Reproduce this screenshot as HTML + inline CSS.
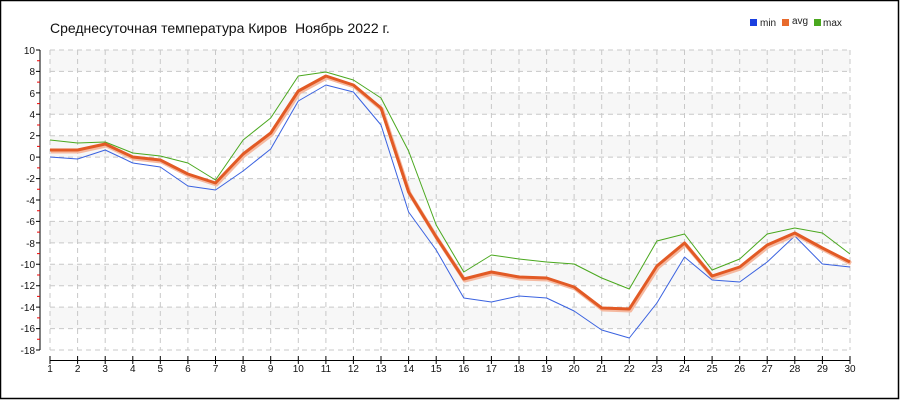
<!DOCTYPE html><html><head><meta charset="utf-8"><style>body{margin:0;background:#fff}svg{display:block}text{font-family:"Liberation Sans","DejaVu Sans",sans-serif}</style></head><body>
<svg width="900" height="400" xmlns="http://www.w3.org/2000/svg">
<rect x="0.5" y="0.5" width="898" height="398" fill="#fff" stroke="#000" stroke-width="1.5"/>
<text x="50" y="33" font-size="14" fill="#111">Среднесуточная температура Киров&#160; Ноябрь 2022 г.</text>
<g font-size="10" fill="#222">
<rect x="750" y="19" width="7" height="7" fill="#1a3fe0"/><text x="760" y="26">min</text>
<rect x="782" y="19" width="7" height="7" fill="#e86a2c"/><text x="792" y="24">avg</text>
<rect x="814" y="19" width="7" height="7" fill="#4aa81e"/><text x="823" y="26">max</text>
</g>
<g fill="#f7f7f7">
<rect x="50" y="50" width="800" height="21.4"/><rect x="50" y="92.9" width="800" height="21.4"/><rect x="50" y="135.7" width="800" height="21.4"/><rect x="50" y="178.6" width="800" height="21.4"/><rect x="50" y="221.4" width="800" height="21.4"/><rect x="50" y="264.3" width="800" height="21.4"/><rect x="50" y="307.1" width="800" height="21.4"/>
</g>
<g stroke="#c8c8c8" stroke-dasharray="5,4" stroke-width="1">
<path d="M50 50H850M50 71.4H850M50 92.9H850M50 114.3H850M50 135.7H850M50 157.1H850M50 178.6H850M50 200H850M50 221.4H850M50 242.9H850M50 264.3H850M50 285.7H850M50 307.1H850M50 328.6H850M50 350H850"/>
<path d="M50 50V350M77.6 50V350M105.2 50V350M132.8 50V350M160.3 50V350M187.9 50V350M215.5 50V350M243.1 50V350M270.7 50V350M298.3 50V350M325.9 50V350M353.4 50V350M381 50V350M408.6 50V350M436.2 50V350M463.8 50V350M491.4 50V350M519 50V350M546.6 50V350M574.1 50V350M601.7 50V350M629.3 50V350M656.9 50V350M684.5 50V350M712.1 50V350M739.7 50V350M767.2 50V350M794.8 50V350M822.4 50V350M850 50V350"/>
</g>
<g stroke="#000" stroke-width="1">
<path d="M40 50V350"/>
<path d="M36 50H40M36 71.4H40M36 92.9H40M36 114.3H40M36 135.7H40M36 157.1H40M36 178.6H40M36 200H40M36 221.4H40M36 242.9H40M36 264.3H40M36 285.7H40M36 307.1H40M36 328.6H40M36 350H40"/>
<path d="M50 360.5H850"/>
<path d="M50 356V364M77.6 356V364M105.2 356V364M132.8 356V364M160.3 356V364M187.9 356V364M215.5 356V364M243.1 356V364M270.7 356V364M298.3 356V364M325.9 356V364M353.4 356V364M381 356V364M408.6 356V364M436.2 356V364M463.8 356V364M491.4 356V364M519 356V364M546.6 356V364M574.1 356V364M601.7 356V364M629.3 356V364M656.9 356V364M684.5 356V364M712.1 356V364M739.7 356V364M767.2 356V364M794.8 356V364M822.4 356V364M850 356V364"/>
</g>
<path stroke="#e00" stroke-width="1" d="M37 60.7H40M37 82.1H40M37 103.6H40M37 125H40M37 146.4H40M37 167.9H40M37 189.3H40M37 210.7H40M37 232.1H40M37 253.6H40M37 275H40M37 296.4H40M37 317.9H40M37 339.3H40"/>
<g font-size="10" fill="#111" text-anchor="end">
<text x="35" y="54">10</text><text x="35" y="75">8</text><text x="35" y="97">6</text><text x="35" y="118">4</text><text x="35" y="139">2</text><text x="35" y="161">0</text><text x="35" y="182">-2</text><text x="35" y="204">-4</text><text x="35" y="225">-6</text><text x="35" y="247">-8</text><text x="35" y="268">-10</text><text x="35" y="289">-12</text><text x="35" y="311">-14</text><text x="35" y="332">-16</text><text x="35" y="354">-18</text>
</g>
<g font-size="10" fill="#111" text-anchor="middle">
<text x="50" y="372">1</text><text x="77.6" y="372">2</text><text x="105.2" y="372">3</text><text x="132.8" y="372">4</text><text x="160.3" y="372">5</text><text x="187.9" y="372">6</text><text x="215.5" y="372">7</text><text x="243.1" y="372">8</text><text x="270.7" y="372">9</text><text x="298.3" y="372">10</text><text x="325.9" y="372">11</text><text x="353.4" y="372">12</text><text x="381" y="372">13</text><text x="408.6" y="372">14</text><text x="436.2" y="372">15</text><text x="463.8" y="372">16</text><text x="491.4" y="372">17</text><text x="519" y="372">18</text><text x="546.6" y="372">19</text><text x="574.1" y="372">20</text><text x="601.7" y="372">21</text><text x="629.3" y="372">22</text><text x="656.9" y="372">23</text><text x="684.5" y="372">24</text><text x="712.1" y="372">25</text><text x="739.7" y="372">26</text><text x="767.2" y="372">27</text><text x="794.8" y="372">28</text><text x="822.4" y="372">29</text><text x="850" y="372">30</text>
</g>
<g fill="none" stroke-linejoin="round">
<polyline stroke="#4aa81e" stroke-width="1" points="50,140 77.6,143 105.2,142 132.8,153 160.3,156 187.9,163 215.5,180 243.1,140 270.7,118 298.3,76 325.9,72 353.4,80 381,98 408.6,151 436.2,225 463.8,272 491.4,255 519,259 546.6,262 574.1,264 601.7,278 629.3,289 656.9,241 684.5,234 712.1,270 739.7,259 767.2,234 794.8,228 822.4,233 850,254"/>
<polyline stroke="#3a62e0" stroke-width="1" points="50,157 77.6,159 105.2,150 132.8,163 160.3,167 187.9,186 215.5,190 243.1,171 270.7,149 298.3,101 325.9,85 353.4,92 381,125 408.6,212 436.2,250 463.8,298 491.4,302 519,296 546.6,298 574.1,311 601.7,330 629.3,338 656.9,303 684.5,257 712.1,280 739.7,282 767.2,262 794.8,236 822.4,264 850,267"/>
<polyline stroke="#f5b9a0" stroke-width="4" transform="translate(1,1.5)" points="50,150 77.6,150 105.2,144 132.8,157 160.3,160 187.9,174 215.5,183 243.1,154 270.7,133 298.3,91 325.9,76 353.4,85 381,108 408.6,192 436.2,237 463.8,279 491.4,272 519,277 546.6,278 574.1,287 601.7,308 629.3,309 656.9,266 684.5,243 712.1,276 739.7,267 767.2,245 794.8,233 822.4,248 850,262"/>
<polyline stroke="#e25a25" stroke-width="3" points="50,150 77.6,150 105.2,144 132.8,157 160.3,160 187.9,174 215.5,183 243.1,154 270.7,133 298.3,91 325.9,76 353.4,85 381,108 408.6,192 436.2,237 463.8,279 491.4,272 519,277 546.6,278 574.1,287 601.7,308 629.3,309 656.9,266 684.5,243 712.1,276 739.7,267 767.2,245 794.8,233 822.4,248 850,262"/>
</g>
</svg>
</body></html>
